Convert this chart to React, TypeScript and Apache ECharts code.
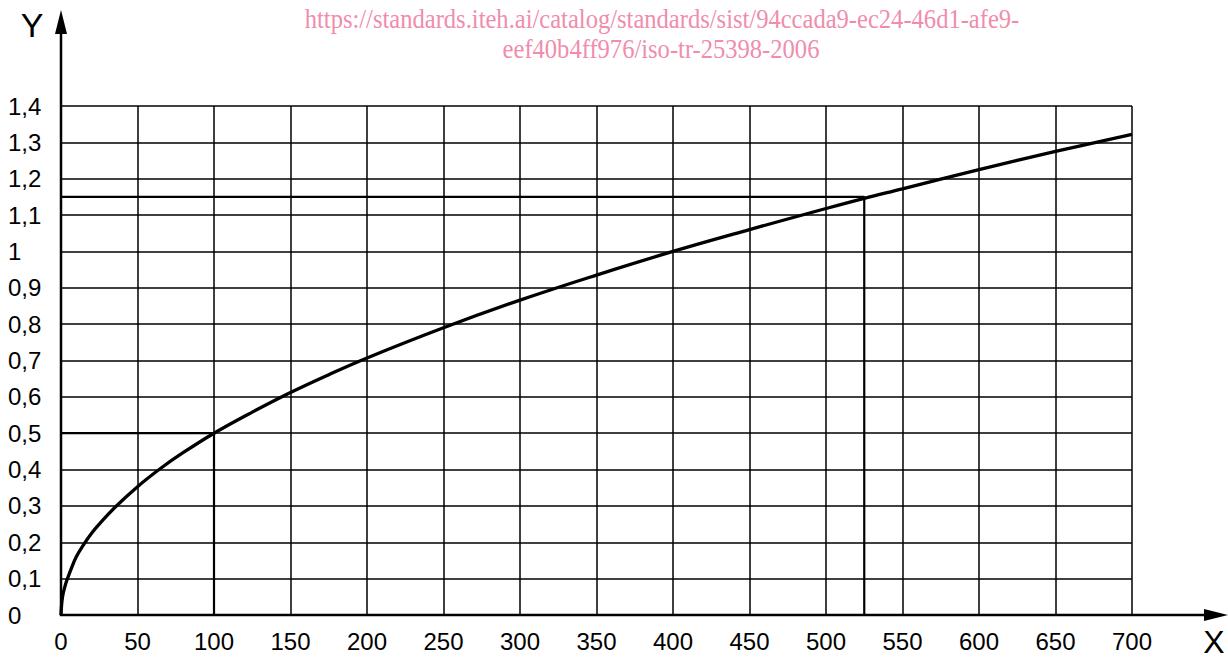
import React, { useEffect, useRef } from 'react';
import * as echarts from 'echarts';

// Curve values
const curveX = [0, 1, 3, 6, 10, 15, 20, 25, 35, 50, 65, 80, 100, 125, 150, 175, 200, 250, 300, 350, 400, 450, 500, 525, 550, 600, 650, 700];
const curveY = [0, 0.05, 0.085, 0.12, 0.16, 0.195, 0.225, 0.25, 0.295, 0.353, 0.403, 0.447, 0.5, 0.558, 0.612, 0.661, 0.707, 0.79, 0.866, 0.935, 1.0, 1.06, 1.118, 1.146, 1.172, 1.225, 1.275, 1.322];

// Reading guides
const guideAX = [0, 100, 100];
const guideAY = [0.5, 0.5, 0];
const guideBX = [0, 525, 525];
const guideBY = [1.15, 1.15, 0];

const xMin = 0, xMax = 700, xStep = 50;
const yMin = 0, yMax = 1.4, yStep = 0.1;

const watermark1 = 'https://standards.iteh.ai/catalog/standards/sist/94ccada9-ec24-46d1-afe9-';
const watermark2 = 'eef40b4ff976/iso-tr-25398-2006';

const zip = (xs: number[], ys: number[]) => xs.map((x, i) => [x, ys[i]]);

export default function App() {
  const ref = useRef<HTMLDivElement>(null);
  useEffect(() => {
    if (!ref.current) return;
    const chart = echarts.init(ref.current, undefined, { renderer: 'svg' });
    const font = 'Liberation Sans, Arial, sans-serif';
    const serif = 'Liberation Serif, Times New Roman, serif';
    chart.setOption({
      animation: false,
      backgroundColor: '#ffffff',
      grid: { left: 61, right: 96, top: 106, bottom: 44, containLabel: false },
      xAxis: {
        type: 'value', min: xMin, max: xMax, interval: xStep,
        axisLine: { show: false }, axisTick: { show: false },
        splitLine: { show: true, lineStyle: { color: '#000', width: 1.5 } },
        axisLabel: { color: '#000', fontFamily: font, fontSize: 24, margin: 14 },
      },
      yAxis: {
        type: 'value', min: yMin, max: yMax, interval: yStep,
        axisLine: { show: false }, axisTick: { show: false },
        splitLine: { show: true, lineStyle: { color: '#000', width: 1.5 } },
        axisLabel: {
          color: '#000', fontFamily: font, fontSize: 24, margin: 53, align: 'left',
          formatter: (v: number) => String(Math.round(v * 10) / 10).replace('.', ','),
        },
      },
      series: [
        {
          type: 'line', data: zip(curveX, curveY), smooth: 0.4, symbol: 'none',
          lineStyle: { color: '#000', width: 3.3 }, z: 5,
        },
        {
          type: 'line', data: zip(guideAX, guideAY), symbol: 'none',
          lineStyle: { color: '#000', width: 2.2 }, z: 4,
        },
        {
          type: 'line', data: zip(guideBX, guideBY), symbol: 'none',
          lineStyle: { color: '#000', width: 2.2 }, z: 4,
        },
      ],
      graphic: [
        { type: 'line', shape: { x1: 61, y1: 616, x2: 61, y2: 28 }, style: { stroke: '#000', lineWidth: 2.5 }, z: 10 },
        { type: 'polygon', shape: { points: [[61, 10], [55, 34], [67, 34]] }, style: { fill: '#000' }, z: 10 },
        { type: 'line', shape: { x1: 60, y1: 615, x2: 1210, y2: 615 }, style: { stroke: '#000', lineWidth: 2.5 }, z: 10 },
        { type: 'polygon', shape: { points: [[1228, 615], [1204, 609], [1204, 621]] }, style: { fill: '#000' }, z: 10 },
        { type: 'text', x: 32, y: 25, style: { text: 'Y', fontFamily: font, fontSize: 34, fill: '#000', align: 'center', verticalAlign: 'middle' }, z: 10 },
        { type: 'text', x: 1214, y: 642, style: { text: 'X', fontFamily: font, fontSize: 32, fill: '#000', align: 'center', verticalAlign: 'middle' }, z: 10 },
        {
          type: 'text', x: 662, y: 19, scaleX: 0.91,
          style: { text: watermark1, fontFamily: serif, fontSize: 27, fill: '#f08cac', align: 'center', verticalAlign: 'middle' }, z: 10,
        },
        {
          type: 'text', x: 661, y: 49, scaleX: 0.91,
          style: { text: watermark2, fontFamily: serif, fontSize: 27, fill: '#f08cac', align: 'center', verticalAlign: 'middle' }, z: 10,
        },
      ],
    });
    return () => chart.dispose();
  }, []);
  return <div ref={ref} style={{ position: 'absolute', left: 0, top: 0, width: 1228, height: 659 }} />;
}
